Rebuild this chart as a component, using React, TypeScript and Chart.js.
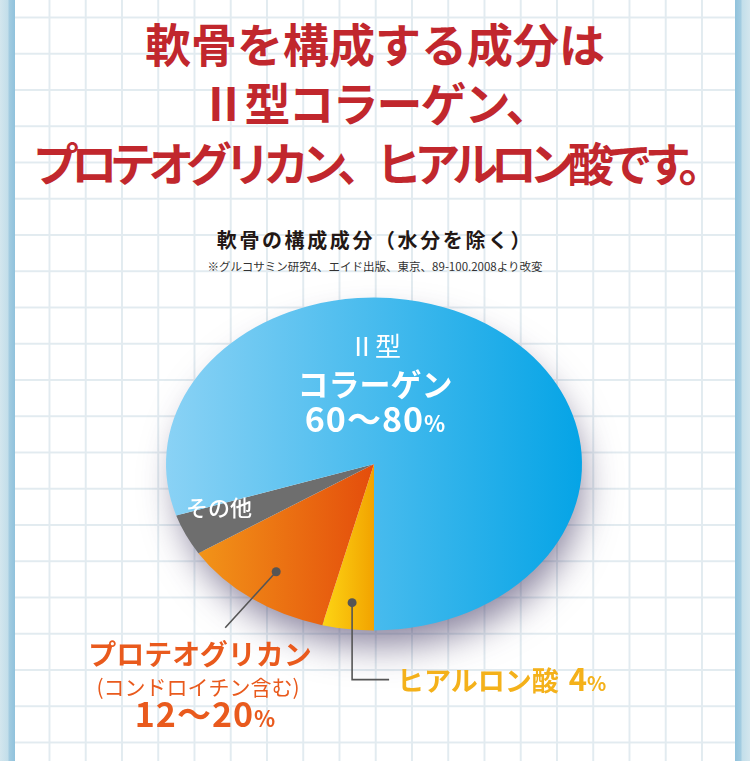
import { useEffect, useRef } from 'react'
import { Chart, ArcElement, PieController } from 'chart.js'

Chart.register(ArcElement, PieController)

// 軟骨の構成成分 (6時の位置から時計回り)
const components = ['ヒアルロン酸', 'プロテオグリカン', 'その他', 'Ⅱ型コラーゲン']
const shares = [4, 12, 4, 80]
const shareLabels = ['4', '12〜20', '', '60〜80']

const sliceColors = [
  ['#fdd514', '#f2a300'],
  ['#f29418', '#e44d0c'],
  ['#6e6e6e', '#6e6e6e'],
  ['#8ad2f5', '#05a4e6'],
]

const SQUASH = 0.8
const FONT = '"Noto Sans CJK JP", "Noto Sans", sans-serif'

function sliceGradient(chart: Chart, index: number) {
  const [from, to] = sliceColors[index]
  const area = chart.chartArea
  if (!area) return from
  const cx = (area.left + area.right) / 2
  const r = Math.min(area.width, area.height) / 2
  const total = shares.reduce((a, b) => a + b, 0)
  const before = shares.slice(0, index).reduce((a, b) => a + b, 0)
  const start = Math.PI / 2 + (before / total) * Math.PI * 2
  const end = start + (shares[index] / total) * Math.PI * 2
  let minX = cx
  let maxX = cx
  for (let i = 0; i <= 60; i++) {
    const a = start + ((end - start) * i) / 60
    const x = cx + Math.cos(a) * r
    minX = Math.min(minX, x)
    maxX = Math.max(maxX, x)
  }
  const g = chart.ctx.createLinearGradient(minX, 0, maxX, 0)
  g.addColorStop(0, from)
  g.addColorStop(1, to)
  return g
}

// 円を楕円につぶして描き、影と引き出し線を付ける
const ellipsePlugin = {
  id: 'ellipse',
  beforeDatasetsDraw(chart: any) {
    const { ctx } = chart
    const arcs = chart.getDatasetMeta(0).data
    if (!arcs.length) return
    const { x, y, outerRadius } = arcs[0]
    ctx.save()
    ctx.translate(x, y)
    ctx.scale(1, SQUASH)
    ctx.beginPath()
    ctx.arc(0, 0, outerRadius - 6, 0, Math.PI * 2)
    ctx.shadowColor = 'rgba(60, 50, 95, 0.6)'
    ctx.shadowBlur = 36
    ctx.shadowOffsetX = 6
    ctx.shadowOffsetY = 20
    ctx.fillStyle = '#ffffff'
    ctx.fill()
    ctx.restore()

    ctx.save()
    ctx.translate(x, y)
    ctx.scale(1, SQUASH)
    ctx.translate(-x, -y)
  },
  afterDatasetsDraw(chart: any) {
    const { ctx } = chart
    ctx.restore()
    const arcs = chart.getDatasetMeta(0).data
    const leaders = [
      { index: 0, f: 0.84, path: [[0, 77], [37, 77]] },
      { index: 1, f: 0.8, path: [[-51, 56]] },
    ]
    ctx.save()
    ctx.strokeStyle = '#555555'
    ctx.fillStyle = '#555555'
    ctx.lineWidth = 1.6
    leaders.forEach(({ index, f, path }) => {
      const arc = arcs[index]
      const mid = (arc.startAngle + arc.endAngle) / 2
      const px = arc.x + Math.cos(mid) * arc.outerRadius * f
      const py = arc.y + Math.sin(mid) * arc.outerRadius * f * SQUASH
      ctx.beginPath()
      ctx.moveTo(px, py)
      path.forEach(([dx, dy]) => ctx.lineTo(px + dx, py + dy))
      ctx.stroke()
      ctx.beginPath()
      ctx.arc(px, py, 4.5, 0, Math.PI * 2)
      ctx.fill()
    })
    ctx.restore()
  },
}

const pct = (size: number) => <span style={{ fontSize: size, letterSpacing: 0 }}>%</span>

export default function App() {
  const canvasRef = useRef<HTMLCanvasElement>(null)

  useEffect(() => {
    if (!canvasRef.current) return
    const chart = new Chart(canvasRef.current, {
      type: 'pie',
      data: {
        labels: components,
        datasets: [
          {
            data: shares,
            backgroundColor: (c: any) => sliceGradient(c.chart, c.dataIndex),
            borderWidth: 0,
            hoverOffset: 0,
            offset: 0,
          },
        ],
      },
      options: {
        responsive: false,
        animation: false,
        rotation: 180,
        layout: { padding: { left: 166, right: 168, top: 256, bottom: 89 } },
        plugins: { legend: { display: false }, tooltip: { enabled: false } },
        events: [],
      },
      plugins: [ellipsePlugin],
    })
    return () => chart.destroy()
  }, [])

  const titleLine = (text: string, top: number, spacing: number) => (
    <div
      style={{
        position: 'absolute',
        left: 0,
        width: 750,
        top,
        textAlign: 'center',
        fontSize: 46,
        lineHeight: '60px',
        fontWeight: 700,
        letterSpacing: spacing,
        color: '#c1272d',
        whiteSpace: 'nowrap',
      }}
    >
      {text}
    </div>
  )

  const abs = (left: number, top: number, extra: any) => ({
    position: 'absolute' as const,
    left,
    top,
    whiteSpace: 'nowrap' as const,
    ...extra,
  })

  return (
    <div
      style={{
        position: 'absolute',
        left: 0,
        top: 0,
        width: 750,
        height: 761,
        overflow: 'hidden',
        fontFamily: FONT,
        backgroundColor: '#ffffff',
        backgroundImage:
          'linear-gradient(to right, #e2ebf0 1.5px, transparent 1.5px), linear-gradient(to bottom, #e2ebf0 1.5px, transparent 1.5px)',
        backgroundSize: '36.25px 36.25px',
        backgroundPosition: '48.5px 16.5px',
      }}
    >
      <div
        style={{
          position: 'absolute',
          left: 0,
          top: 0,
          width: 15,
          height: 761,
          background: 'linear-gradient(to right, #d3e6ee 0px, #c2deea 8px, #a3cce1 9px, #90c2dc 15px)',
        }}
      />
      <div
        style={{
          position: 'absolute',
          left: 735,
          top: 0,
          width: 15,
          height: 761,
          background: 'linear-gradient(to right, #90c2dc 0px, #a3cce1 6px, #c2deea 7px, #d3e6ee 15px)',
        }}
      />

      {titleLine('軟骨を構成する成分は', 12, 0)}
      {titleLine('Ⅱ型コラーゲン、', 71, -2)}
      {titleLine('プロテオグリカン、ヒアルロン酸です。', 131, -7.5)}

      <div
        style={abs(0, 226, {
          width: 750,
          textAlign: 'center',
          fontSize: 20,
          fontWeight: 700,
          letterSpacing: 2.6,
          color: '#231815',
          lineHeight: '28px',
        })}
      >
        軟骨の構成成分（水分を除く）
      </div>
      <div
        style={abs(0, 257, {
          width: 750,
          textAlign: 'center',
          fontSize: 11.5,
          color: '#333333',
          lineHeight: '18px',
        })}
      >
        ※グルコサミン研究4、エイド出版、東京、89-100.2008より改変
      </div>

      <canvas ref={canvasRef} width={750} height={761} style={{ position: 'absolute', left: 0, top: 0 }} />

      {/* Ⅱ型コラーゲン */}
      <div style={abs(275, 328, { width: 200, textAlign: 'center', color: '#ffffff', fontSize: 26, lineHeight: '34px' })}>
        Ⅱ型
      </div>
      <div
        style={abs(275, 364, { width: 200, textAlign: 'center', color: '#ffffff', fontSize: 31, fontWeight: 700, lineHeight: '38px' })}
      >
        コラーゲン
      </div>
      <div
        style={abs(275, 397, {
          width: 200,
          textAlign: 'center',
          color: '#ffffff',
          fontSize: 34,
          fontWeight: 700,
          letterSpacing: 1,
          lineHeight: '42px',
        })}
      >
        {shareLabels[3]}
        {pct(22)}
      </div>

      {/* その他 */}
      <div style={abs(186, 491, { color: '#ffffff', fontSize: 22, fontWeight: 500, lineHeight: '30px' })}>{components[2]}</div>

      {/* プロテオグリカン */}
      <div
        style={abs(60, 635, { width: 280, textAlign: 'center', color: '#e95a1d', fontSize: 28, fontWeight: 700, lineHeight: '36px' })}
      >
        {components[1]}
      </div>
      <div style={abs(60, 672, { width: 276, textAlign: 'center', color: '#e95a1d', fontSize: 21, lineHeight: '28px' })}>
        (コンドロイチン含む)
      </div>
      <div
        style={abs(60, 692, {
          width: 290,
          textAlign: 'center',
          color: '#e95a1d',
          fontSize: 34,
          fontWeight: 700,
          letterSpacing: 1,
          lineHeight: '42px',
        })}
      >
        {shareLabels[1]}
        {pct(22)}
      </div>

      {/* ヒアルロン酸 */}
      <div style={abs(397, 660, { color: '#f4b11a', fontSize: 27, fontWeight: 700, lineHeight: '36px' })}>
        {components[0]}
        <span style={{ fontSize: 31, marginLeft: 10 }}>{shareLabels[0]}</span>
        {pct(20)}
      </div>
    </div>
  )
}
